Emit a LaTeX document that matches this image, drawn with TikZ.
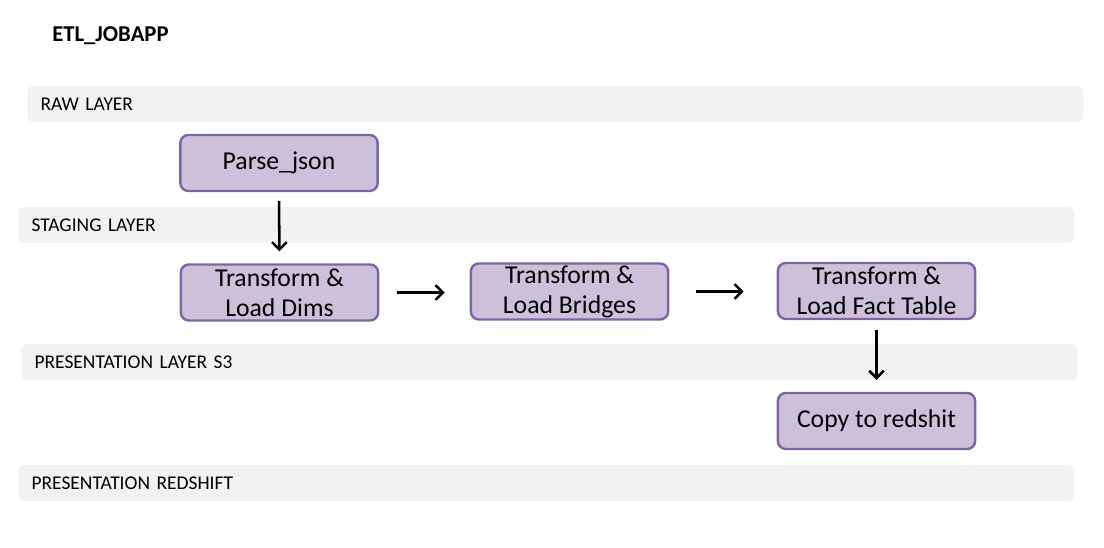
\documentclass[tikz,border=0pt]{standalone}
\usepackage{fontspec}
\setmainfont{Carlito}
\usetikzlibrary{arrows.meta}
\definecolor{bandfill}{HTML}{F2F2F2}
\definecolor{boxfill}{HTML}{CCC0DA}
\definecolor{boxline}{HTML}{8064A2}
\newcommand{\myBandFont}{\fontsize{14.6}{16}\selectfont\spaceskip=2.5pt plus 1pt\relax}
\tikzset{
  band/.style={fill=bandfill, draw=none, rounded corners=4pt, minimum height=27pt,
    text width=772pt, inner xsep=10pt, inner ysep=0pt, align=left, anchor=west,
    font=\myBandFont},
  stepbox/.style={fill=boxfill, draw=boxline, line width=1.8pt, rounded corners=6pt,
    minimum width=148pt, minimum height=42pt, inner sep=0pt, align=center,
    font=\fontsize{19.3}{22.5}\selectfont},
  arr/.style={line width=1.9pt, -{Straight Barb[length=5.5pt,width=11pt]}}
}
\begin{document}
\begin{tikzpicture}[x=0.75pt,y=-0.75pt]
\useasboundingbox (0,0) rectangle (1104,548);
\node[anchor=west, font=\bfseries\fontsize{17}{20}\selectfont, inner sep=0pt] (title) at (52,36) {ETL\_JOBAPP};
\node[band] (raw) at (27,104) {RAW LAYER};
\node[band] (stg) at (18,225) {STAGING LAYER};
\node[band] (ps3) at (21,362) {PRESENTATION LAYER S3};
\node[band] (prs) at (18,483) {PRESENTATION REDSHIFT};

\node[stepbox] (parse) at (279,163) {Parse\_json};
\node[stepbox] (dims) at (279.5,292.5) {Transform \&\\Load Dims};
\node[stepbox] (bridges) at (569.5,291.5) {Transform \&\\Load Bridges};
\node[stepbox] (fact) at (876.5,291) {Transform \&\\Load Fact Table};
\node[stepbox] (copy) at (876.5,421) {Copy to redshit};

\draw[arr, shorten <=6.75pt, shorten >=9pt] (parse.south) -- (dims.north);
\draw[arr, shorten <=13.5pt, shorten >=18.75pt] (dims.east) -- (dims.east -| bridges.west);
\draw[arr, shorten <=20pt, shorten >=24.75pt] (bridges.east) -- (bridges.east -| fact.west);
\draw[arr, shorten <=7.5pt, shorten >=9pt] (fact.south) -- (copy.north);
\end{tikzpicture}
\end{document}
